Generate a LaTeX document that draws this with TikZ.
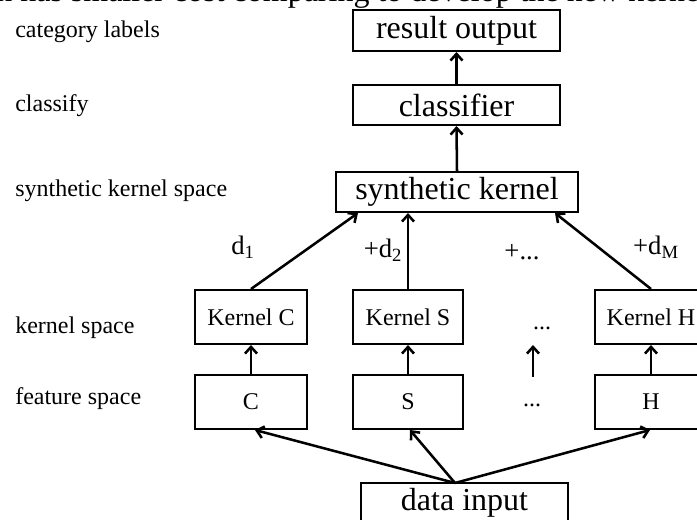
\documentclass[tikz,border=0pt]{standalone}
\usepackage{fontspec}
\setmainfont{Liberation Serif}
\usetikzlibrary{arrows.meta}
\begin{document}
\begin{tikzpicture}[x=0.75pt,y=-0.75pt,
  box/.style={draw,line width=1.5pt,inner sep=0pt,minimum width=#1*0.75pt},
  big/.style={font=\fontsize{24}{28}\selectfont},
  small/.style={font=\fontsize{18}{21}\selectfont},
  mid/.style={font=\fontsize{20}{24}\selectfont,inner sep=0pt},
  arr/.style={line width=1.9pt,-{Straight Barb[length=5pt,width=9pt]}},
  lbl/.style={small,anchor=base west,inner sep=0pt}]
\useasboundingbox (0,0) rectangle (697,520);
\clip (0,0) rectangle (697,520);
% cut-off page text at the top
\node[big,anchor=base west,inner sep=0pt] (cut) at (-4,2) {n has smaller cost comparing to develop the new kernel};
% left labels
\node[lbl] (l1) at (15,38) {category labels};
\node[lbl] (l2) at (15,112) {classify};
\node[lbl] (l3) at (15,197) {synthetic kernel space};
\node[lbl] (l4) at (15,334) {kernel space};
\node[lbl] (l5) at (15,405) {feature space};
% boxes
\node[box=207,minimum height=41*0.75pt,big] (ro) at (456.5,30.5) {result output};
\node[box=207,minimum height=40*0.75pt,big] (cls) at (456.5,105) {classifier};
\node[box=242,minimum height=40*0.75pt,big] (syn) at (457,192) {synthetic kernel};
\node[box=112,minimum height=54*0.75pt,small] (kc) at (251,317) {Kernel C};
\node[box=110,minimum height=54*0.75pt,small] (ks) at (408,317) {Kernel S};
\node[box=112,minimum height=54*0.75pt,small] (kh) at (651,317) {Kernel H};
\node[box=112,minimum height=54*0.75pt,small] (c) at (251,402) {C};
\node[box=110,minimum height=54*0.75pt,small] (s) at (408,402) {S};
\node[box=112,minimum height=54*0.75pt,small] (h) at (651,402) {H};
\node[box=207,minimum height=40*0.75pt,big] (data) at (464.5,503) {data input};
% dots
\node[small,inner sep=0pt] (dk) at (542,328) {...};
\node[small,inner sep=0pt] (df) at (532,405) {...};
\coordinate (dka) at (533,377);
\coordinate (dkb) at (533,345);
% weight labels
\node[mid] (w1) at (243,247) {d\textsubscript{1}};
\node[mid] (w2) at (383,250) {+d\textsubscript{2}};
\node[mid] (w3) at (522,252) {+...};
\node[mid] (w4) at (656,247) {+d\textsubscript{M}};
% connectors
\coordinate (apex) at (455,483);
\draw[arr] (cls.north) -- (ro.south);
\draw[arr] (syn.north) -- (cls.south);
\draw[arr] (kc.north) -- (syn.south west -| 358,0);
\draw[arr] (ks.north) -- (ks.north |- syn.south);
\draw[arr] (kh.north) -- (syn.south east -| 555,0);
\draw[arr] (c.north) -- (kc.south);
\draw[arr] (s.north) -- (ks.south);
\draw[arr] (h.north) -- (kh.south);
\draw[arr] (dka) -- (dkb);
\draw[arr] (apex) -- (c.south -| 255,0);
\draw[arr] (apex) -- (s.south -| 410,0);
\draw[arr] (apex) -- (h.south -| 650,0);
\end{tikzpicture}
\end{document}
